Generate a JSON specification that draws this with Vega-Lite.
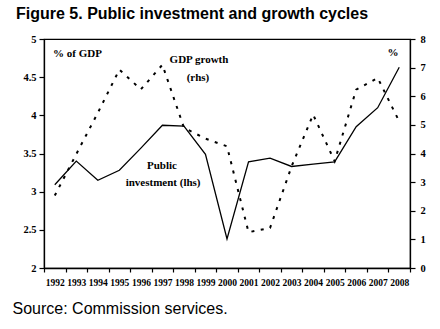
{
  "$schema": "https://vega.github.io/schema/vega-lite/v6.json",
  "width": 366,
  "height": 229,
  "autosize": "none",
  "padding": {"left": 44, "top": 39, "right": 30, "bottom": 61},
  "background": "white",
  "config": {
    "view": {"stroke": "#000", "strokeWidth": 1.2},
    "axis": {"grid": false, "domainColor": "#000", "domainWidth": 1.3, "tickColor": "#000", "tickWidth": 1.2, "labelColor": "#000", "labelFont": "Liberation Serif", "labelFontWeight": "bold"}
  },
  "title": {
    "text": "Figure 5. Public investment and growth cycles",
    "anchor": "start",
    "frame": "group",
    "dx": -28,
    "offset": 12,
    "font": "Liberation Sans",
    "fontSize": 16,
    "fontWeight": "bold",
    "color": "#000"
  },
  "data": {
    "values": [
      {"year": "1992", "inv": 3.09, "gdp": 2.53},
      {"year": "1993", "inv": 3.40, "gdp": 3.98},
      {"year": "1994", "inv": 3.15, "gdp": 5.42},
      {"year": "1995", "inv": 3.28, "gdp": 6.93},
      {"year": "1996", "inv": 3.57, "gdp": 6.24},
      {"year": "1997", "inv": 3.87, "gdp": 7.10},
      {"year": "1998", "inv": 3.86, "gdp": 4.90},
      {"year": "1999", "inv": 3.49, "gdp": 4.52},
      {"year": "2000", "inv": 2.38, "gdp": 4.25},
      {"year": "2001", "inv": 3.39, "gdp": 1.25},
      {"year": "2002", "inv": 3.44, "gdp": 1.40},
      {"year": "2003", "inv": 3.33, "gdp": 3.55},
      {"year": "2004", "inv": 3.36, "gdp": 5.36},
      {"year": "2005", "inv": 3.39, "gdp": 3.73},
      {"year": "2006", "inv": 3.85, "gdp": 6.23},
      {"year": "2007", "inv": 4.10, "gdp": 6.64},
      {"year": "2008", "inv": 4.63, "gdp": 5.12}
    ]
  },
  "layer": [
    {
      "mark": {"type": "line", "color": "#000", "strokeWidth": 1.3},
      "encoding": {
        "x": {
          "field": "year", "type": "ordinal",
          "scale": {"paddingInner": 0, "paddingOuter": 0},
          "axis": {
            "labelAngle": 0, "tickBand": "extent", "tickSize": 4, "labelFontSize": 9.5, "labelPadding": 5,
            "title": "Source: Commission services.",
            "titleFont": "Liberation Sans", "titleFontSize": 16, "titleFontWeight": "normal", "titleColor": "#000",
            "titleAnchor": "start", "titleAlign": "left", "titleBaseline": "alphabetic",
            "titleX": -32, "titleY": 45
          }
        },
        "y": {
          "field": "inv", "type": "quantitative",
          "scale": {"domain": [2, 5], "nice": false, "zero": false},
          "axis": {"values": [2, 2.5, 3, 3.5, 4, 4.5, 5], "format": "~g", "title": null, "tickSize": 5, "labelFontSize": 10.5, "labelPadding": 3}
        }
      }
    },
    {
      "mark": {"type": "line", "color": "#000", "strokeWidth": 2, "strokeDash": [3, 6.5]},
      "encoding": {
        "x": {"field": "year", "type": "ordinal", "scale": {"paddingInner": 0, "paddingOuter": 0}, "axis": null},
        "y": {
          "field": "gdp", "type": "quantitative",
          "scale": {"domain": [0, 8], "nice": false},
          "axis": {"orient": "right", "values": [0, 1, 2, 3, 4, 5, 6, 7, 8], "title": null, "tickSize": 5, "labelFontSize": 10.5, "labelPadding": 5}
        }
      }
    },
    {
      "data": {"values": [{}]},
      "layer": [
        {"mark": {"type": "text", "align": "left", "baseline": "middle", "font": "Liberation Serif", "fontWeight": "bold", "fontSize": 11, "color": "#000", "text": "% of GDP"},
         "encoding": {"x": {"datum": 1991.92, "type": "quantitative"}, "y": {"datum": 4.81, "type": "quantitative"}}},
        {"mark": {"type": "text", "align": "center", "baseline": "middle", "font": "Liberation Serif", "fontWeight": "bold", "fontSize": 11, "color": "#000", "text": "GDP growth"},
         "encoding": {"x": {"datum": 1998.7, "type": "quantitative"}, "y": {"datum": 4.73, "type": "quantitative"}}},
        {"mark": {"type": "text", "align": "center", "baseline": "middle", "font": "Liberation Serif", "fontWeight": "bold", "fontSize": 11, "color": "#000", "text": "(rhs)"},
         "encoding": {"x": {"datum": 1998.65, "type": "quantitative"}, "y": {"datum": 4.49, "type": "quantitative"}}},
        {"mark": {"type": "text", "align": "center", "baseline": "middle", "font": "Liberation Serif", "fontWeight": "bold", "fontSize": 11, "color": "#000", "text": "Public"},
         "encoding": {"x": {"datum": 1996.98, "type": "quantitative"}, "y": {"datum": 3.34, "type": "quantitative"}}},
        {"mark": {"type": "text", "align": "center", "baseline": "middle", "font": "Liberation Serif", "fontWeight": "bold", "fontSize": 11, "color": "#000", "text": "investment (lhs)"},
         "encoding": {"x": {"datum": 1997.03, "type": "quantitative"}, "y": {"datum": 3.11, "type": "quantitative"}}},
        {"mark": {"type": "text", "align": "center", "baseline": "middle", "font": "Liberation Serif", "fontWeight": "bold", "fontSize": 11, "color": "#000", "text": "%"},
         "encoding": {"x": {"datum": 2007.71, "type": "quantitative"}, "y": {"datum": 4.82, "type": "quantitative"}}}
      ],
      "encoding": {
        "x": {"type": "quantitative", "scale": {"domain": [1991.5, 2008.5], "nice": false, "zero": false}, "axis": null},
        "y": {"type": "quantitative", "scale": {"domain": [2, 5], "nice": false, "zero": false}, "axis": null}
      }
    }
  ],
  "resolve": {"scale": {"x": "independent", "y": "independent"}}
}
